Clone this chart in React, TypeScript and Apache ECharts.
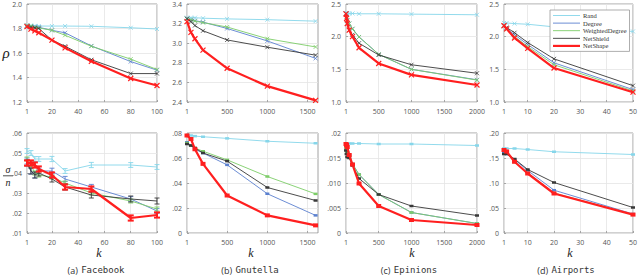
import React, { useEffect, useRef } from 'react';
import * as echarts from 'echarts';

const seriesNames = ['Rand', 'Degree', 'WeightedDegree', 'NetShield', 'NetShape'];
const seriesColors = ['#86d6ea', '#5b80cf', '#7dcd68', '#383838', '#ff1f1f'];

// (a) Facebook
const fbK = [1, 4, 7, 10, 20, 30, 50, 80, 100];
const fbTicks = [1, 20, 40, 60, 80, 100];
const fbRho = [
  [1.825, 1.825, 1.822, 1.82, 1.82, 1.82, 1.818, 1.806, 1.796],
  [1.825, 1.82, 1.815, 1.81, 1.785, 1.765, 1.658, 1.53, 1.46],
  [1.825, 1.82, 1.81, 1.805, 1.785, 1.745, 1.655, 1.55, 1.465],
  [1.815, 1.81, 1.805, 1.8, 1.705, 1.655, 1.545, 1.432, 1.432],
  [1.815, 1.795, 1.78, 1.765, 1.705, 1.642, 1.532, 1.392, 1.335],
];
const fbSigma = [
  [0.051, 0.05, 0.047, 0.047, 0.047, 0.041, 0.044, 0.044, 0.043],
  [0.046, 0.041, 0.039, 0.041, 0.041, 0.037, 0.033, 0.027, 0.021],
  [0.047, 0.044, 0.04, 0.039, 0.038, 0.035, 0.03, 0.026, 0.022],
  [0.045, 0.041, 0.039, 0.04, 0.037, 0.033, 0.029, 0.027, 0.026],
  [0.045, 0.045, 0.044, 0.042, 0.039, 0.033, 0.032, 0.0175, 0.019],
];
const fbSigmaErr = [
  [0.0012, 0.0012, 0.0012, 0.0012, 0.0013, 0.0012, 0.0013, 0.0012, 0.0012],
  [0.0015, 0.0015, 0.0015, 0.0014, 0.0014, 0.0013, 0.0013, 0.0012, 0.0012],
  [0.001, 0.001, 0.001, 0.001, 0.001, 0.001, 0.001, 0.001, 0.001],
  [0.0015, 0.0015, 0.0015, 0.0015, 0.0015, 0.0015, 0.0015, 0.0015, 0.0015],
  [0.0013, 0.0013, 0.0013, 0.0013, 0.0013, 0.0013, 0.0013, 0.0013, 0.0013],
];

// (b) Gnutella
const gnK = [1, 50, 100, 200, 500, 1000, 1600];
const gnTicks = [1, 500, 1000, 1500];
const gnRho = [
  [3.26, 3.26, 3.26, 3.255, 3.248, 3.24, 3.225],
  [3.25, 3.24, 3.23, 3.215, 3.15, 3.023, 2.845],
  [3.25, 3.24, 3.225, 3.21, 3.165, 3.046, 2.962],
  [3.25, 3.22, 3.18, 3.127, 3.033, 2.959, 2.878],
  [3.22, 3.11, 3.045, 2.93, 2.744, 2.562, 2.417],
];
const gnSigma = [
  [0.078, 0.078, 0.0775, 0.077, 0.0757, 0.0734, 0.0718],
  [0.0726, 0.07, 0.067, 0.064, 0.0545, 0.0314, 0.0141],
  [0.072, 0.07, 0.068, 0.0654, 0.0585, 0.0452, 0.0313],
  [0.0712, 0.07, 0.068, 0.064, 0.0575, 0.0364, 0.026],
  [0.078, 0.0752, 0.067, 0.0553, 0.03, 0.0141, 0.0061],
];

// (c) Epinions
const epK = [1, 10, 20, 50, 100, 200, 500, 1000, 2000];
const epTicks = [1, 500, 1000, 1500, 2000];
const epRho = [
  [2.36, 2.36, 2.36, 2.355, 2.355, 2.35, 2.35, 2.345, 2.335],
  [2.35, 2.3, 2.25, 2.2, 2.12, 1.995, 1.73, 1.5, 1.34],
  [2.35, 2.3, 2.25, 2.2, 2.12, 1.995, 1.73, 1.5, 1.335],
  [2.35, 2.28, 2.2, 2.1, 2.03, 1.9, 1.72, 1.57, 1.44],
  [2.35, 2.28, 2.2, 2.1, 2.0, 1.83, 1.59, 1.415, 1.26],
];
const epSigma = [
  [0.0179, 0.0179, 0.0179, 0.0179, 0.0179, 0.0179, 0.0178, 0.0178, 0.0175],
  [0.0172, 0.0168, 0.0162, 0.0155, 0.0138, 0.0117, 0.0077, 0.0041, 0.0019],
  [0.0172, 0.0168, 0.0162, 0.0155, 0.0138, 0.0117, 0.0077, 0.0041, 0.0019],
  [0.0165, 0.0158, 0.0152, 0.015, 0.0135, 0.0109, 0.0077, 0.0054, 0.0035],
  [0.0178, 0.0176, 0.0172, 0.0156, 0.0137, 0.0099, 0.0054, 0.0026, 0.0016],
];

// (d) Airports
const apK = [1, 2, 5, 10, 20, 50];
const apTicks = [1, 10, 20, 30, 40, 50];
const apRho = [
  [2.21, 2.21, 2.2, 2.19, 2.15, 2.08],
  [2.16, 2.12, 2.03, 1.88, 1.6, 1.19],
  [2.16, 2.11, 2.0, 1.85, 1.57, 1.17],
  [2.17, 2.14, 2.06, 1.91, 1.66, 1.25],
  [2.17, 2.12, 1.98, 1.82, 1.52, 1.15],
];
const apSigma = [
  [0.169, 0.169, 0.169, 0.167, 0.1625, 0.157],
  [0.16, 0.158, 0.147, 0.125, 0.0856, 0.038],
  [0.165, 0.16, 0.142, 0.12, 0.08, 0.037],
  [0.158, 0.158, 0.148, 0.127, 0.101, 0.051],
  [0.166, 0.163, 0.1425, 0.119, 0.079, 0.0368],
];

const captions = ['(a)|Facebook', '(b)|Gnutella', '(c)|Epinions', '(d)|Airports'];

const panels = [
  { k: fbK, ticks: fbTicks, rho: fbRho, sigma: fbSigma, err: fbSigmaErr, xMax: 100, left: 27, width: 130, rhoY: [1.2, 2.0, 0.2], sigY: [0.01, 0.06, 0.01], sigDec: 2, kx: 99, capX: 96 },
  { k: gnK, ticks: gnTicks, rho: gnRho, sigma: gnSigma, err: null, xMax: 1630, left: 187, width: 131, rhoY: [2.4, 3.4, 0.2], sigY: [0, 0.08, 0.02], sigDec: 2, kx: 251, capX: 250 },
  { k: epK, ticks: epTicks, rho: epRho, sigma: epSigma, err: null, xMax: 2000, left: 346, width: 131, rhoY: [1.0, 2.5, 0.5], sigY: [0, 0.02, 0.005], sigDec: 3, kx: 412, capX: 409 },
  { k: apK, ticks: apTicks, rho: apRho, sigma: apSigma, err: null, xMax: 50, left: 504, width: 132, rhoY: [1.0, 2.5, 0.5], sigY: [0, 0.2, 0.05], sigDec: 2, kx: 570, capX: 566 },
];

const TICK_FONT = 'Open Sans';
const labelColor = '#555';

function buildOption() {
  const grid: any[] = [];
  const xAxis: any[] = [];
  const yAxis: any[] = [];
  const series: any[] = [];
  const graphic: any[] = [];

  panels.forEach((p, pi) => {
    [0, 1].forEach((row) => {
      const gi = grid.length;
      grid.push({
        left: p.left,
        width: p.width,
        top: row ? 133 : 4,
        height: row ? 100 : 98,
        show: true,
        borderColor: '#8a8a8a',
        borderWidth: 0.8,
        backgroundColor: 'transparent',
      });
      xAxis.push({
        type: 'value',
        gridIndex: gi,
        min: 1,
        max: p.xMax,
        axisLine: { show: false },
        axisTick: { show: true, inside: true, length: 2, lineStyle: { color: '#888', width: 0.7 }, customValues: p.ticks },
        splitLine: { show: true, lineStyle: { color: '#e4e4e4', width: 0.8 }, customValues: p.ticks },
        axisLabel: {
          customValues: p.ticks,
          formatter: (v: number) => String(Math.round(v)),
          fontFamily: TICK_FONT,
          fontSize: 7,
          color: labelColor,
          margin: 6,
        },
      });
      const yr = row ? p.sigY : p.rhoY;
      yAxis.push({
        type: 'value',
        gridIndex: gi,
        min: yr[0],
        max: yr[1],
        interval: yr[2],
        axisLine: { show: false },
        axisTick: { show: true, inside: true, length: 2, lineStyle: { color: '#888', width: 0.7 } },
        splitLine: { show: true, lineStyle: { color: '#e4e4e4', width: 0.8 } },
        axisLabel: {
          fontFamily: TICK_FONT,
          fontSize: 7,
          color: labelColor,
          margin: 5,
          formatter: (v: number) => {
            if (!row) return v.toFixed(1);
            if (Math.abs(v) < 1e-9) return '0';
            let s = v.toFixed(p.sigDec);
            if (s === '0.020') s = '0.02';
            return s.replace(/^0/, '');
          },
        },
      });
      const vals = row ? p.sigma : p.rho;
      const useErr = row && p.err;
      vals.forEach((arr, si) => {
        const c = seriesColors[si];
        const thick = si === 4;
        let symbol: any = 'path://M0,0L1,1M1,0L0,1';
        let symbolSize: any = thick ? 5 : 4;
        if (row) {
          symbol = useErr ? 'none' : 'rect';
          symbolSize = thick ? [5, 4] : [4, 2.5];
        }
        series.push({
          type: 'line',
          name: seriesNames[si],
          xAxisIndex: gi,
          yAxisIndex: gi,
          data: p.k.map((k, i) => [k, arr[i]]),
          color: c,
          symbol,
          symbolSize,
          showSymbol: symbol !== 'none',
          showAllSymbol: true,
          lineStyle: { color: c, width: thick ? 2.2 : 0.9 },
          itemStyle: { color: c, borderColor: c, borderWidth: row ? 0 : thick ? 1.2 : 0.8 },
          z: 2 + si,
          emphasis: { disabled: true },
        });
        if (useErr) {
          const errs = (p.err as number[][])[si];
          series.push({
            type: 'custom',
            name: seriesNames[si] + ' err',
            xAxisIndex: gi,
            yAxisIndex: gi,
            data: p.k.map((k, i) => [k, arr[i], errs[i]]),
            encode: { x: 0, y: 1 },
            z: 2 + si,
            renderItem: (params: any, api: any) => {
              const x = api.value(0);
              const y = api.value(1);
              const e = api.value(2);
              const t = api.coord([x, y + e]);
              const b = api.coord([x, y - e]);
              const hw = thick ? 3 : 2.5;
              const st = { stroke: c, lineWidth: thick ? 2 : 0.9 };
              return {
                type: 'group',
                children: [
                  { type: 'line', shape: { x1: t[0], y1: t[1], x2: b[0], y2: b[1] }, style: st },
                  { type: 'line', shape: { x1: t[0] - hw, y1: t[1], x2: t[0] + hw, y2: t[1] }, style: st },
                  { type: 'line', shape: { x1: b[0] - hw, y1: b[1], x2: b[0] + hw, y2: b[1] }, style: st },
                ],
              };
            },
          });
        }
      });
    });

    graphic.push({
      type: 'text',
      x: p.kx,
      y: 253,
      style: { text: 'k', fontFamily: 'Liberation Serif', fontStyle: 'italic', fontSize: 12, fill: '#222', align: 'center', verticalAlign: 'middle' },
    });
    const [cap1, cap2] = captions[pi].split('|');
    graphic.push({
      type: 'text',
      x: p.capX,
      y: 270,
      style: {
        text: `{a|${cap1}} {b|${cap2}}`,
        rich: {
          a: { fontFamily: 'Open Sans', fontSize: 9, fill: '#333' },
          b: { fontFamily: 'DejaVu Sans Mono', fontSize: 9, fill: '#333' },
        },
        align: 'center',
        verticalAlign: 'middle',
      },
    });
  });

  graphic.push(
    { type: 'text', x: 6, y: 53, style: { text: 'ρ', fontFamily: 'Liberation Serif', fontStyle: 'italic', fontSize: 15, fill: '#222', align: 'center', verticalAlign: 'middle' } },
    { type: 'text', x: 8, y: 169, style: { text: 'σ', fontFamily: 'Liberation Serif', fontStyle: 'italic', fontSize: 10, fill: '#222', align: 'center', verticalAlign: 'middle' } },
    { type: 'line', shape: { x1: 3, y1: 175.8, x2: 13, y2: 175.8 }, style: { stroke: '#222', lineWidth: 0.8 } },
    { type: 'text', x: 8, y: 182.5, style: { text: 'n', fontFamily: 'Liberation Serif', fontStyle: 'italic', fontSize: 10, fill: '#222', align: 'center', verticalAlign: 'middle' } },
  );

  const thinIcon = 'path://M0,0M0,3h30v1h-30zM30,7';
  const thickIcon = 'path://M0,0M0,2.3h30v2.4h-30zM30,7';

  return {
    animation: false,
    grid,
    xAxis,
    yAxis,
    series,
    graphic,
    legend: {
      data: seriesNames.map((n, i) => ({ name: n, icon: i === 4 ? thickIcon : thinIcon })),
      orient: 'vertical',
      left: 550,
      top: 10,
      itemWidth: 27,
      itemHeight: 7,
      itemGap: 0.6,
      padding: [2, 3, 2, 3],
      backgroundColor: '#fff',
      borderColor: '#999',
      borderWidth: 0.8,
      borderRadius: 0,
      itemStyle: { borderWidth: 0 },
      textStyle: { fontFamily: 'Liberation Serif', fontSize: 6.5, color: '#333', padding: [0, 0, 0, -2] },
      selectedMode: false,
      z: 20,
    },
  };
}

export default function App() {
  const ref = useRef<HTMLDivElement>(null);
  useEffect(() => {
    if (!ref.current) return;
    const chart = echarts.init(ref.current, null, { renderer: 'svg' });
    chart.setOption(buildOption() as any);
    return () => chart.dispose();
  }, []);
  return <div ref={ref} style={{ position: 'fixed', left: 0, top: 0, width: 640, height: 278, background: '#fff' }} />;
}
